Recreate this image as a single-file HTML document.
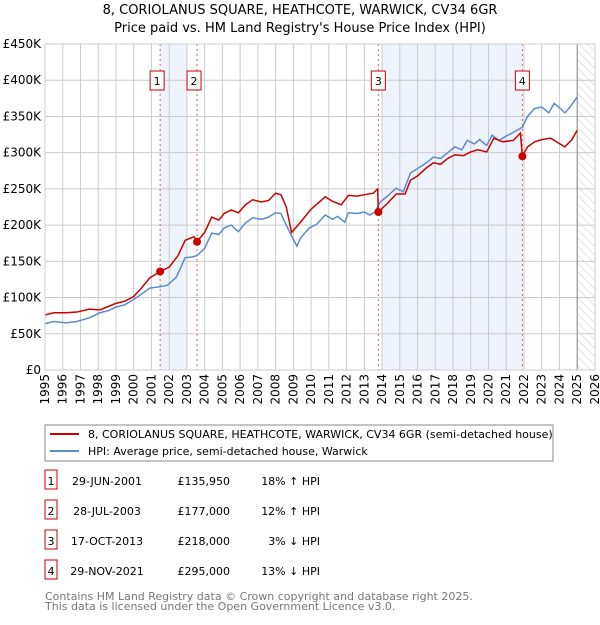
<!DOCTYPE html>
<html><head><meta charset="utf-8"><style>
body{margin:0;background:#fff;font-family:"Liberation Sans","DejaVu Sans",sans-serif;}
svg text{font-family:"DejaVu Sans","Liberation Sans",sans-serif;}
</style></head><body>
<svg id="c" width="600" height="620" xmlns="http://www.w3.org/2000/svg">
<defs><pattern id="hatch" width="6" height="6" patternUnits="userSpaceOnUse" patternTransform="rotate(-45)"><line x1="0" y1="0" x2="0" y2="6" stroke="#ccc" stroke-width="1"/></pattern></defs>
<text x="300" y="14" text-anchor="middle" font-size="13">8, CORIOLANUS SQUARE, HEATHCOTE, WARWICK, CV34 6GR</text>
<text x="300" y="32" text-anchor="middle" font-size="13">Price paid vs. HM Land Registry's House Price Index (HPI)</text>
<g id="plot"></g>
<rect x="45" y="425" width="508" height="36" fill="#fff" stroke="#888"/>
<line x1="50" y1="434" x2="79" y2="434" stroke="#cc0000" stroke-width="2"/>
<text x="88" y="438" font-size="11">8, CORIOLANUS SQUARE, HEATHCOTE, WARWICK, CV34 6GR (semi-detached house)</text>
<line x1="50" y1="451" x2="79" y2="451" stroke="#5b8bd0" stroke-width="2"/>
<text x="88" y="455" font-size="11">HPI: Average price, semi-detached house, Warwick</text>
<g id="table" font-size="11"></g>
<text x="45" y="600" font-size="11" fill="#777">Contains HM Land Registry data © Crown copyright and database right 2025.</text>
<text x="45" y="610" font-size="11" fill="#777">This data is licensed under the Open Government Licence v3.0.</text>
</svg>
<script>
const hpiYears=[1995,1995.5,1996.2,1996.8,1997.5,1998.1,1998.6,1999.0,1999.5,1999.97,2000.4,2000.9,2001.5,2001.9,2002.4,2002.9,2003.3,2003.57,2004.0,2004.4,2004.8,2005.1,2005.5,2005.9,2006.3,2006.7,2007.2,2007.6,2008.0,2008.3,2008.6,2008.9,2009.2,2009.4,2009.9,2010.3,2010.8,2011.2,2011.5,2011.9,2012.1,2012.6,2013.0,2013.3,2013.6,2013.9,2014.3,2014.8,2015.2,2015.6,2016.0,2016.5,2016.9,2017.3,2017.7,2018.1,2018.5,2018.8,2019.2,2019.5,2019.9,2020.2,2020.6,2021.0,2021.4,2021.9,2022.2,2022.6,2023.0,2023.4,2023.7,2024.0,2024.3,2024.6,2025.0];
const hpiValues=[64,67,65,67,72,79,82,87,90,97,104,113,115,117,128,155,156,158,168,189,187,196,200,191,203,210,208,211,217,216,200,185,171,182,196,201,214,208,212,204,217,216,218,214,218,232,240,251,246,272,278,286,294,292,300,308,304,317,312,318,310,324,317,323,328,335,350,361,363,355,368,362,355,363,377];
const propYears=[1995,1995.5,1996.2,1996.8,1997.5,1998.1,1998.6,1999.0,1999.5,1999.97,2000.4,2000.9,2001.49,2002.0,2002.5,2002.9,2003.4,2003.57,2004.0,2004.4,2004.8,2005.1,2005.5,2005.9,2006.3,2006.7,2007.2,2007.6,2008.0,2008.3,2008.6,2008.9,2009.4,2010.0,2010.8,2011.2,2011.7,2012.1,2012.6,2013.0,2013.5,2013.75,2013.79,2014.3,2014.8,2015.3,2015.6,2016.0,2016.5,2016.9,2017.3,2017.7,2018.1,2018.6,2019.0,2019.4,2019.9,2020.3,2020.8,2021.4,2021.8,2021.91,2022.2,2022.6,2023.0,2023.5,2023.9,2024.3,2024.7,2025.0];
const propValues=[76,79,79,80,84,83,88,92,95,101,112,127,136,142,158,179,184,177,190,211,207,216,221,217,228,235,232,234,244,242,225,190,204,222,239,233,228,241,240,242,244,250,218,230,243,243,262,268,279,286,284,292,297,296,301,304,301,320,315,317,327,295,308,315,318,320,314,308,318,331];
const saleYears=[2001.49,2003.57,2013.79,2021.91];
const salePrices=[135950,177000,218000,295000];
const saleDates=["29-JUN-2001","28-JUL-2003","17-OCT-2013","29-NOV-2021"];
const salePriceLabels=["£135,950","£177,000","£218,000","£295,000"];
const saleHpiLabels=["18% ↑ HPI","12% ↑ HPI","3% ↓ HPI","13% ↓ HPI"];
const yTicks=[0,50,100,150,200,250,300,350,400,450];
const xTicks=[1995,1996,1997,1998,1999,2000,2001,2002,2003,2004,2005,2006,2007,2008,2009,2010,2011,2012,2013,2014,2015,2016,2017,2018,2019,2020,2021,2022,2023,2024,2025,2026];
const NS="http://www.w3.org/2000/svg";
const X=y=>45+(y-1995)*17.74;
const Y=v=>370-v*326/450;
const g=document.getElementById('plot');
function mk(t,a,p){const e=document.createElementNS(NS,t);for(const k in a)e.setAttribute(k,a[k]);(p||g).appendChild(e);return e;}
let r;
r=mk('rect',{x:X(2001.49),y:44,width:X(2003.0)-X(2001.49),height:326,fill:'#eef3fc'});


r=mk('rect',{x:X(2014.0),y:44,width:X(2021.91)-X(2014.0),height:326,fill:'#eef3fc'});


r=mk('rect',{x:X(2025.0),y:44,width:X(2026)-X(2025.0),height:326,fill:'url(#hatch)'});


yTicks.forEach(v=>{
 const l=mk('line',{x1:45,x2:595,y1:Y(v),y2:Y(v),stroke:'#ccc'});
 
 
 const t=mk('text',{x:41,y:Y(v)+4,'text-anchor':'end','font-size':12});
 t.textContent=v===0?'£0':'£'+v+'K';
 
 
});
xTicks.forEach(yr=>{
 const l=mk('line',{x1:X(yr),x2:X(yr),y1:44,y2:370,stroke:'#ccc'});
 
 
 const t=mk('text',{x:0,y:0,'text-anchor':'end','font-size':12,transform:`translate(${X(yr)+4},374) rotate(-90)`});
 t.textContent=yr;
 
 
});
r=mk('line',{x1:X(2025.0),x2:X(2025.0),y1:44,y2:370,stroke:'#888'});


saleYears.forEach((yr,i)=>{
 const l=mk('line',{x1:X(yr),x2:X(yr),y1:44,y2:370,stroke:'#e06060','stroke-dasharray':'2,3'});
 
 
 const b=mk('rect',{x:X(yr)-7-(i<2?3:0),y:71,width:14,height:19,fill:'#fff',stroke:'#cc0000'});
 
 
 const t=mk('text',{x:X(yr)-(i<2?3:0),y:85,'text-anchor':'middle','font-size':11});
 t.textContent=i+1;
 
 
});
const hp=mk('polyline',{points:hpiYears.map((y,i)=>X(y)+','+Y(hpiValues[i])).join(' '),fill:'none',stroke:'#5b8bd0','stroke-width':1.5});


const pp=mk('polyline',{points:propYears.map((y,i)=>X(y)+','+Y(propValues[i])).join(' '),fill:'none',stroke:'#cc0000','stroke-width':1.5});


saleYears.forEach((yr,i)=>{
 const c=mk('circle',{cx:X(yr),cy:Y(salePrices[i]/1000),r:4,fill:'#cc0000'});
 
 
});
r=mk('rect',{x:45,y:44,width:550,height:326,fill:'none',stroke:'#ccc'});


const tb=document.getElementById('table');
saleDates.forEach((d,i)=>{
 const y=483+i*30;
 const b=mk('rect',{x:45,y:y-13,width:12,height:19,fill:'#fff',stroke:'#cc0000'},tb);
 
 
 let t=mk('text',{x:51,y:y+2,'text-anchor':'middle'},tb);t.textContent=i+1;
 
 
 t=mk('text',{x:107,y:y+2,'text-anchor':'middle'},tb);t.textContent=d;
 
 
 t=mk('text',{x:230,y:y+2,'text-anchor':'end'},tb);t.textContent=salePriceLabels[i];
 
 
 t=mk('text',{x:320,y:y+2,'text-anchor':'end'},tb);t.textContent=saleHpiLabels[i];
 
 
});
</script>
</body></html>
